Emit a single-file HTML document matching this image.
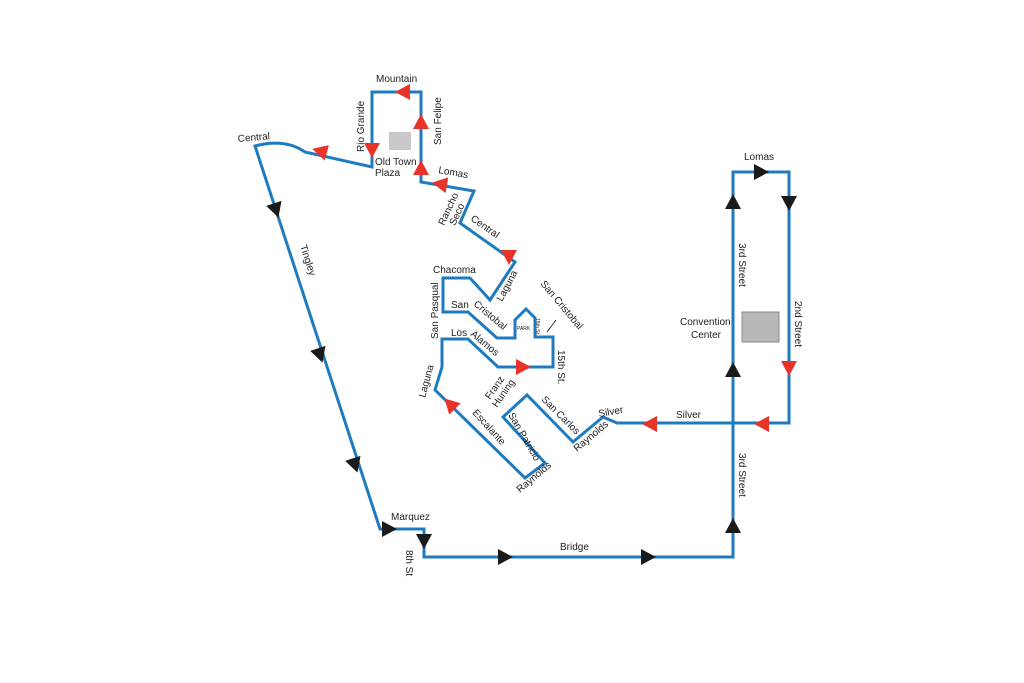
<!DOCTYPE html>
<html><head><meta charset="utf-8"><style>
html,body{margin:0;padding:0;background:#fff}
svg{display:block}
text{font-family:"Liberation Sans",sans-serif;font-size:10px;fill:#222}
</style></head><body>
<svg width="1024" height="683" viewBox="0 0 1024 683" xmlns="http://www.w3.org/2000/svg">
<rect width="1024" height="683" fill="#fff"/>
<defs>
<polygon id="tr" points="-7,-8 8,0 -7,8"/>
</defs>
<rect x="389" y="132" width="22" height="18" fill="#c8c8c8"/>
<rect x="742" y="312" width="37" height="30" fill="#b8b8b8" stroke="#888" stroke-width="1"/>
<g fill="none" stroke="#1f7bbf" stroke-width="3" stroke-linejoin="miter">
<path d="M380,529 L255,146 Q285,138 305,152 L372,167 L372,92 L421,92 L421,182 L474,191 L460,223 L515,262 L490,300 L470,278 L443,278 L443,312 L468,312 L497,338 L515,338 L515,320 L526,309 L535,318 L535,337 L553,337 L553,367 L498,367 L468,339 L442,339 L442,367 L435,390 L525,478 L545,463 L503,417 L527,395 L573,442 L603,417 L617,423 L789,423 L789,172 L733,172 L733,557 L424,557 L424,529 Z"/>
</g>
<line x1="547" y1="332" x2="556" y2="320" stroke="#333" stroke-width="1"/>
<g fill="#e8332a">
<use href="#tr" transform="translate(320,151) rotate(195)"/>
<use href="#tr" transform="translate(372,150) rotate(90)"/>
<use href="#tr" transform="translate(403,92) rotate(180)"/>
<use href="#tr" transform="translate(421,122) rotate(-90)"/>
<use href="#tr" transform="translate(421,168) rotate(-90)"/>
<use href="#tr" transform="translate(440,184) rotate(190)"/>
<use href="#tr" transform="translate(509,257) rotate(90)"/>
<use href="#tr" transform="translate(523,367) rotate(0)"/>
<use href="#tr" transform="translate(450,404) rotate(-135)"/>
<use href="#tr" transform="translate(650,424) rotate(180)"/>
<use href="#tr" transform="translate(762,424) rotate(180)"/>
<use href="#tr" transform="translate(789,368) rotate(90)"/>
</g>
<g fill="#1a1a1a">
<use href="#tr" transform="translate(276,210) rotate(72)"/>
<use href="#tr" transform="translate(320,355) rotate(72)"/>
<use href="#tr" transform="translate(355,465) rotate(72)"/>
<use href="#tr" transform="translate(389,529) rotate(0)"/>
<use href="#tr" transform="translate(424,541) rotate(90)"/>
<use href="#tr" transform="translate(505,557) rotate(0)"/>
<use href="#tr" transform="translate(648,557) rotate(0)"/>
<use href="#tr" transform="translate(733,526) rotate(-90)"/>
<use href="#tr" transform="translate(733,370) rotate(-90)"/>
<use href="#tr" transform="translate(733,202) rotate(-90)"/>
<use href="#tr" transform="translate(761,172) rotate(0)"/>
<use href="#tr" transform="translate(789,203) rotate(90)"/>
</g>
<text x="376" y="82">Mountain</text>
<text x="238" y="142" transform="rotate(-5 238 142)">Central</text>
<text transform="translate(364,152) rotate(-90)">Rio Grande</text>
<text transform="translate(441,145) rotate(-90)">San Felipe</text>
<text x="375" y="165">Old Town</text>
<text x="375" y="176">Plaza</text>
<text x="438" y="173" transform="rotate(10 438 173)">Lomas</text>
<text transform="translate(444,226) rotate(-65)">Rancho</text>
<text transform="translate(455,226) rotate(-65)">Seco</text>
<text transform="translate(470,220) rotate(35)">Central</text>
<text transform="translate(502,302) rotate(-62)">Laguna</text>
<text x="433" y="273">Chacoma</text>
<text transform="translate(438,339) rotate(-90)">San Pasqual</text>
<text x="451" y="308">San</text>
<text transform="translate(473,305) rotate(40)">Cristobal</text>
<text transform="translate(540,284) rotate(50)">San Cristobal</text>
<text x="517" y="330" style="font-size:5px">PARK</text>
<text transform="translate(536,318) rotate(90)" style="font-size:5px">15th St.</text>
<text transform="translate(558,350) rotate(90)">15th St.</text>
<text x="451" y="336">Los</text>
<text transform="translate(470,335) rotate(40)">Alamos</text>
<text transform="translate(425,398) rotate(-75)">Laguna</text>
<text transform="translate(490,400) rotate(-55)">Franz</text>
<text transform="translate(497,408) rotate(-55)">Huning</text>
<text transform="translate(508,415) rotate(60)">San Patricio</text>
<text transform="translate(472,413) rotate(48)">Escalante</text>
<text transform="translate(520,493) rotate(-40)">Raynolds</text>
<text transform="translate(541,400) rotate(45)">San Carlos</text>
<text transform="translate(577,452) rotate(-40)">Raynolds</text>
<text x="599" y="417" transform="rotate(-10 599 417)">Silver</text>
<text x="676" y="418">Silver</text>
<text x="744" y="160">Lomas</text>
<text transform="translate(739,243) rotate(90)">3rd Street</text>
<text transform="translate(795,301) rotate(90)">2nd Street</text>
<text transform="translate(739,453) rotate(90)">3rd Street</text>
<text x="680" y="325">Convention</text>
<text x="691" y="338">Center</text>
<text x="391" y="520">Marquez</text>
<text transform="translate(406,550) rotate(90)">8th St</text>
<text x="560" y="550">Bridge</text>
<text transform="translate(300,246) rotate(72)">Tingley</text>
</svg>
</body></html>
